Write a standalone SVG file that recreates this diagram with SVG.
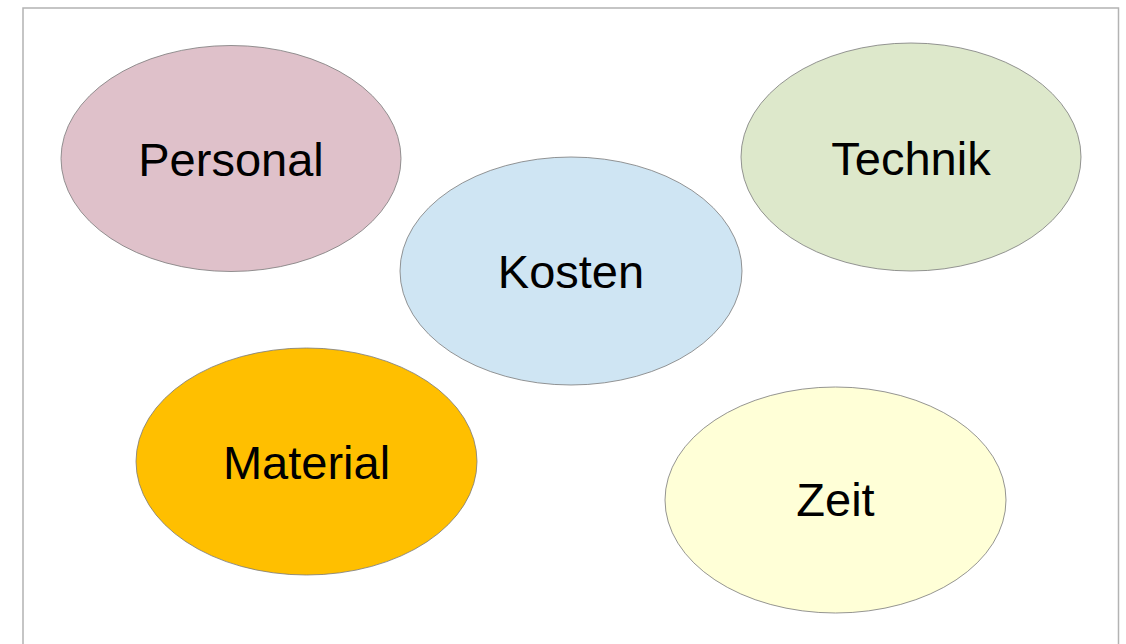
<svg xmlns="http://www.w3.org/2000/svg" width="1126" height="644" viewBox="0 0 1126 644">
<style>
.n{stroke:#7a7a7a;stroke-width:0.8}
.t{font-family:"Liberation Sans",Arial,sans-serif;font-size:47px;fill:#000;text-anchor:middle}
</style>
<rect x="0" y="0" width="1126" height="644" fill="#fff"/>
<rect x="23" y="8" width="1095.5" height="660" fill="#fff" stroke="#b3b3b3" stroke-width="1.5"/>
<g id="personal"><ellipse class="n" cx="231" cy="158.5" rx="170" ry="113" fill="#dfc1ca"/><text class="t" x="231" y="176">Personal</text></g>
<g id="technik"><ellipse class="n" cx="911" cy="157" rx="170" ry="114" fill="#dde8cb"/><text class="t" x="911" y="175">Technik</text></g>
<g id="kosten"><ellipse class="n" cx="571" cy="271" rx="171" ry="114" fill="#cfe5f3"/><text class="t" x="571" y="288">Kosten</text></g>
<g id="material"><ellipse class="n" cx="306.5" cy="461.5" rx="170.5" ry="113.5" fill="#ffbf00"/><text class="t" x="306.5" y="479">Material</text></g>
<g id="zeit"><ellipse class="n" cx="835.5" cy="500" rx="170.5" ry="113" fill="#ffffd7"/><text class="t" x="835.5" y="516">Zeit</text></g>
<g id="connectors"/>
</svg>
